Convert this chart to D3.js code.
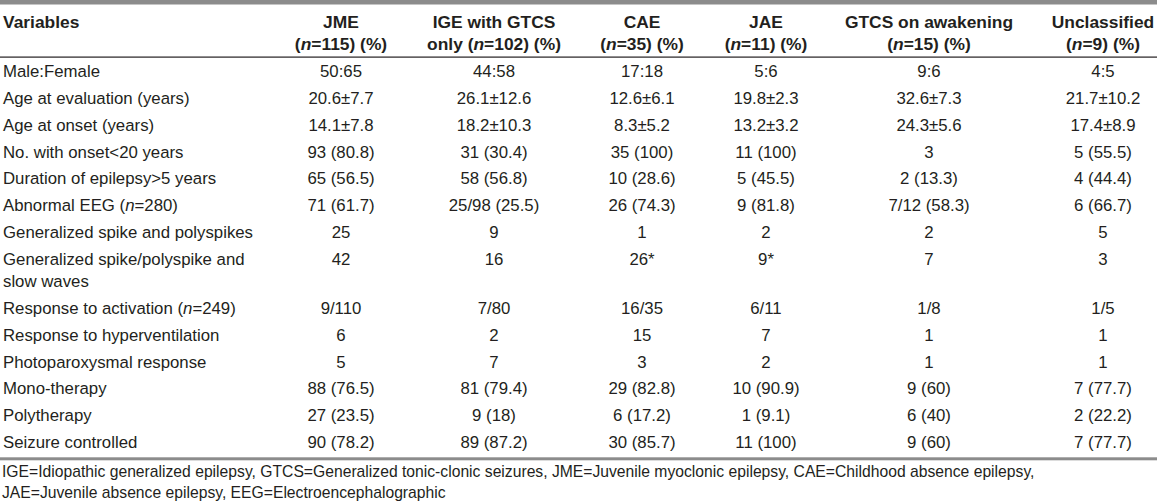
<!DOCTYPE html>
<html>
<head>
<meta charset="utf-8">
<script src="https://cdn.jsdelivr.net/npm/d3@7"></script>
<style>
  html, body { margin: 0; padding: 0; background: #fff; }
  svg { display: block; }
  text { font-family: "Liberation Sans", Arial, Helvetica, sans-serif; }
</style>
</head>
<body>
<div id="chart"></div>
<script>
// ---------- data ----------
const columnKeys = ["JME", "IGE", "CAE", "JAE", "GTCS", "Unclassified"];
const headerLine1 = ["JME", "IGE with GTCS", "CAE", "JAE", "GTCS on awakening", "Unclassified"];
const headerLine2 = ["(n=115) (%)", "only (n=102) (%)", "(n=35) (%)", "(n=11) (%)", "(n=15) (%)", "(n=9) (%)"];
const firstHeader = "Variables";

const rowLabels = [
  ["Male:Female"],
  ["Age at evaluation (years)"],
  ["Age at onset (years)"],
  ["No. with onset<20 years"],
  ["Duration of epilepsy>5 years"],
  ["Abnormal EEG (n=280)"],
  ["Generalized spike and polyspikes"],
  ["Generalized spike/polyspike and", "slow waves"],
  ["Response to activation (n=249)"],
  ["Response to hyperventilation"],
  ["Photoparoxysmal response"],
  ["Mono-therapy"],
  ["Polytherapy"],
  ["Seizure controlled"]
];

const valuesJME  = ["50:65", "20.6±7.7", "14.1±7.8", "93 (80.8)", "65 (56.5)", "71 (61.7)", "25", "42", "9/110", "6", "5", "88 (76.5)", "27 (23.5)", "90 (78.2)"];
const valuesIGE  = ["44:58", "26.1±12.6", "18.2±10.3", "31 (30.4)", "58 (56.8)", "25/98 (25.5)", "9", "16", "7/80", "2", "7", "81 (79.4)", "9 (18)", "89 (87.2)"];
const valuesCAE  = ["17:18", "12.6±6.1", "8.3±5.2", "35 (100)", "10 (28.6)", "26 (74.3)", "1", "26*", "16/35", "15", "3", "29 (82.8)", "6 (17.2)", "30 (85.7)"];
const valuesJAE  = ["5:6", "19.8±2.3", "13.2±3.2", "11 (100)", "5 (45.5)", "9 (81.8)", "2", "9*", "6/11", "7", "2", "10 (90.9)", "1 (9.1)", "11 (100)"];
const valuesGTCS = ["9:6", "32.6±7.3", "24.3±5.6", "3", "2 (13.3)", "7/12 (58.3)", "2", "7", "1/8", "1", "1", "9 (60)", "6 (40)", "9 (60)"];
const valuesUnc  = ["4:5", "21.7±10.2", "17.4±8.9", "5 (55.5)", "4 (44.4)", "6 (66.7)", "5", "3", "1/5", "1", "1", "7 (77.7)", "2 (22.2)", "7 (77.7)"];

const footnotes = [
  "IGE=Idiopathic generalized epilepsy, GTCS=Generalized tonic-clonic seizures, JME=Juvenile myoclonic epilepsy, CAE=Childhood absence epilepsy,",
  "JAE=Juvenile absence epilepsy, EEG=Electroencephalographic"
];

// ---------- layout ----------
const W = 1157, H = 503;
const seriesValues = [valuesJME, valuesIGE, valuesCAE, valuesJAE, valuesGTCS, valuesUnc];

const svg = d3.select("#chart").append("svg")
  .attr("width", W).attr("height", H)
  .attr("viewBox", `0 0 ${W} ${H}`);
svg.append("rect").attr("width", W).attr("height", H).attr("fill", "#fff");

const x = d3.scaleOrdinal().domain(columnKeys).range([341, 494, 642, 766, 929, 1103]);

// row positions in "row units": wrapped row occupies extra space
const rowStarts = [];
{
  let u = 0;
  rowLabels.forEach((lab, i) => { rowStarts.push(u); u += lab.length > 1 ? 1.82 : 1; });
}
const rowUnit = 26.85;
const y = d3.scaleLinear().domain([0, 1]).range([77, 77 + rowUnit]);
const wrapLine = 22;

const textColor = "#231f20";
const bodySize = 16.8;

// Italic "n" helper
function addRich(sel, str) {
  const parts = str.split(/(?<=\()n(?==)/);
  parts.forEach((p, i) => {
    if (i > 0) sel.append("tspan").attr("font-style", "italic").text("n");
    if (p.length) sel.append("tspan").text(p);
  });
}

// rules
svg.append("rect").attr("x", 0).attr("y", 0).attr("width", W).attr("height", 4.5).attr("fill", "#8c8c8c");
svg.append("rect").attr("x", 0).attr("y", 56.5).attr("width", W).attr("height", 1.2).attr("fill", "#231f20");
svg.append("rect").attr("x", 0).attr("y", 457.3).attr("width", W).attr("height", 3).attr("fill", "#8c8c8c");

// header
const header = svg.append("g").attr("font-weight", "bold").attr("font-size", 17.4).attr("fill", textColor);
header.append("text").attr("x", 3).attr("y", 28).text(firstHeader);
columnKeys.forEach((k, i) => {
  header.append("text").attr("x", x(k)).attr("y", 28).attr("text-anchor", "middle").text(headerLine1[i]);
  const t = header.append("text").attr("x", x(k)).attr("y", 50).attr("text-anchor", "middle");
  addRich(t, headerLine2[i]);
});

// body
const body = svg.append("g").attr("font-size", bodySize).attr("fill", textColor);
rowLabels.forEach((lines, r) => {
  const baseY = y(rowStarts[r]);
  lines.forEach((ln, j) => {
    const t = body.append("text").attr("x", 3).attr("y", baseY + j * wrapLine);
    addRich(t, ln);
  });
  columnKeys.forEach((k, c) => {
    body.append("text").attr("x", x(k)).attr("y", baseY).attr("text-anchor", "middle").text(seriesValues[c][r]);
  });
});

// footnotes
const foot = svg.append("g").attr("font-size", 15.7).attr("fill", textColor);
footnotes.forEach((f, i) => {
  foot.append("text").attr("x", 2).attr("y", 477 + i * 20.5).text(f);
});
</script>
</body>
</html>
